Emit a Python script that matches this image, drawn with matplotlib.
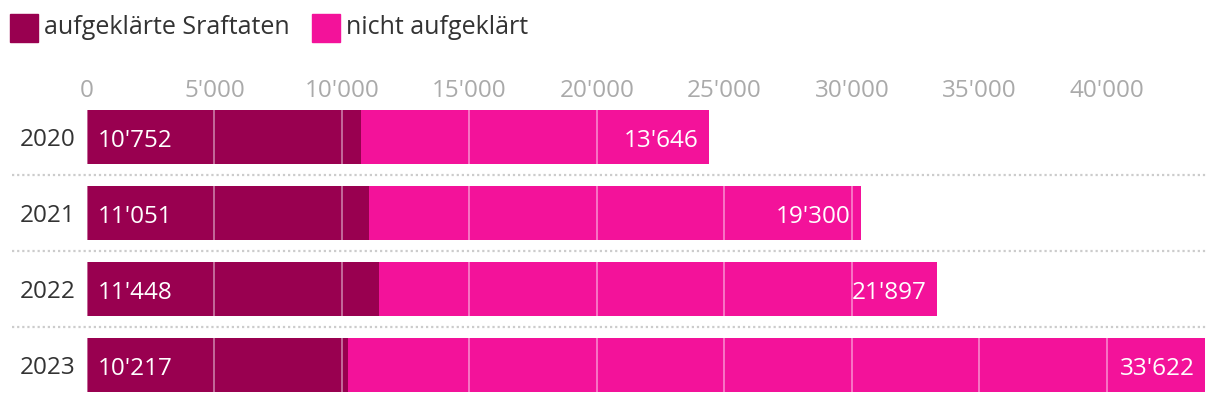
import matplotlib.pyplot as plt
from matplotlib.transforms import blended_transform_factory

years = ['2020', '2021', '2022', '2023']
solved = [10752, 11051, 11448, 10217]
unsolved = [13646, 19300, 21897, 33622]
ticks = [0, 5000, 10000, 15000, 20000, 25000, 30000, 35000, 40000]
legend_labels = ['aufgeklärte Sraftaten', 'nicht aufgeklärt']

DARK = '#990050'
PINK = '#F3129A'


def fmt(v):
    return f'{v:,}'.replace(',', "'")


plt.rcParams['font.family'] = ['Open Sans', 'DejaVu Sans']
plt.rcParams['font.weight'] = 'medium'

W, H = 1220, 404
fig = plt.figure(figsize=(W / 100, H / 100), dpi=100)
ax = fig.add_axes([87 / W, 0, (1210 - 87) / W, (404 - 99) / H])

pos = range(len(years))
ax.barh(pos, solved, height=0.70, color=DARK, zorder=2)
ax.barh(pos, unsolved, left=solved, height=0.70, color=PINK, zorder=2)

for t in ticks:
    ax.axvline(t, color='white', alpha=0.45, lw=1.3, zorder=3)

for i, (s, u) in enumerate(zip(solved, unsolved)):
    ax.annotate(fmt(s), (0, i), xytext=(7.5, -7), textcoords='offset points',
                ha='left', va='baseline', color='white', fontsize=17.5, zorder=5)
    ax.annotate(fmt(u), (s + u, i), xytext=(-7.5, -7), textcoords='offset points',
                ha='right', va='baseline', color='white', fontsize=17.5, zorder=5)

tr = blended_transform_factory(ax.transAxes, ax.transData)
for y in [0.5, 1.5, 2.5]:
    ax.plot([-75 / 1123, 1120 / 1123], [y, y], transform=tr, clip_on=False,
            color='#cccccc', lw=1.6, ls=(0, (1, 1.3)), zorder=4)

ax.set_xlim(0, 44040)
ax.set_ylim(-0.5 + 305 / 76, -0.5)
ax.xaxis.tick_top()
ax.set_xticks(ticks, [fmt(t) for t in ticks])
ax.set_yticks(list(pos), years)
ax.tick_params(axis='x', length=0, pad=-3, labelsize=17.5, labelcolor='#aaaaaa')
ax.tick_params(axis='y', length=0, pad=8, labelsize=17.5, labelcolor='#333333')
for sp in ax.spines.values():
    sp.set_visible(False)

# legend
for x0, label, c in [(10, legend_labels[0], DARK), (312, legend_labels[1], PINK)]:
    fig.patches.append(plt.Rectangle((x0 / W, 1 - 42 / H), 28 / W, 28 / H,
                                     transform=fig.transFigure, color=c))
    fig.text((x0 + 34) / W, 1 - 27 / H, label, ha='left', va='center',
             fontsize=18, color='#333333')

fig.savefig('out.png', dpi=100)
